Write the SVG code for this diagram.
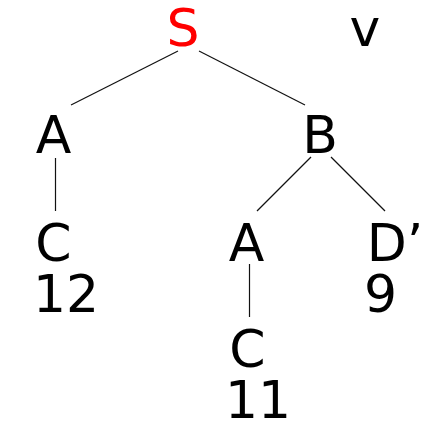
<svg xmlns="http://www.w3.org/2000/svg" width="423" height="426" viewBox="0 0 423 426">
  <style>
    .lbl { font-family: "DejaVu Sans", "Liberation Sans", sans-serif; font-size: 52px; fill: #000; text-anchor: middle; }
    .root { fill: #ff0000; }
    .edge { stroke: #111; stroke-width: 1.2; fill: none; }
  </style>
  <rect width="423" height="426" fill="#fff"/>
  <g id="connectors">
    <line class="edge" x1="178" y1="51" x2="71" y2="105"/>
    <line class="edge" x1="199" y1="51" x2="305" y2="105"/>
    <line class="edge" x1="55.5" y1="158" x2="55.5" y2="211"/>
    <line class="edge" x1="311" y1="157" x2="257" y2="211"/>
    <line class="edge" x1="331" y1="157" x2="385" y2="211"/>
    <line class="edge" x1="249.5" y1="264" x2="249.5" y2="317"/>
  </g>
  <g id="node-S"><text class="lbl root" x="183" y="46">S</text></g>
  <g id="label-v"><text class="lbl" x="365" y="46">v</text></g>
  <g id="node-A1"><text class="lbl" x="53.5" y="153">A</text></g>
  <g id="node-B"><text class="lbl" x="320" y="153">B</text></g>
  <g id="node-C1">
    <text class="lbl" x="53.5" y="261">C</text>
    <text class="lbl" x="66" y="312">12</text>
  </g>
  <g id="node-A2"><text class="lbl" x="246.5" y="261">A</text></g>
  <g id="node-D">
    <text class="lbl" x="395" y="261">D’</text>
    <text class="lbl" x="380.5" y="312">9</text>
  </g>
  <g id="node-C2">
    <text class="lbl" x="247.5" y="367">C</text>
    <text class="lbl" x="258" y="418">11</text>
  </g>
</svg>
